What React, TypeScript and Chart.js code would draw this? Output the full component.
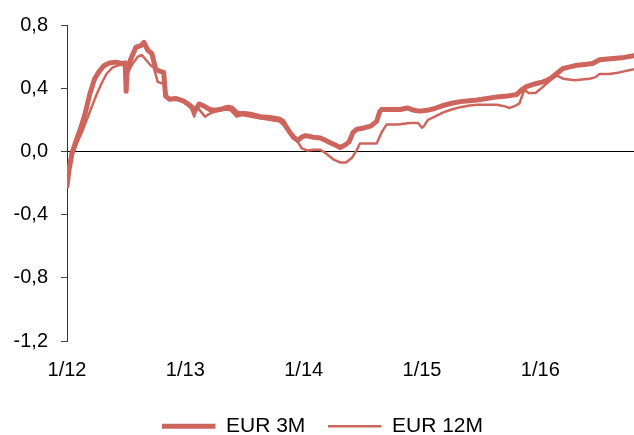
import React, { useEffect, useRef } from "react";
import { Chart, registerables } from "chart.js";

Chart.register(...registerables);

// x values are months elapsed since January 2012
const xTickLabels = ["1/12", "1/13", "1/14", "1/15", "1/16"];
const yTicks = [-1.2, -0.8, -0.4, 0, 0.4, 0.8];

const eur3mMonths = [
  0, 0.2, 0.5, 1.0, 1.4, 1.8, 2.3, 2.8, 3.2, 3.7, 4.3, 5.0, 5.6, 5.9, 6.0, 6.1, 6.5, 7.0, 7.5, 7.8,
  8.2, 8.6, 9.0, 9.3, 9.8, 10.0, 10.4, 11.0, 11.8, 12.5, 13.0, 13.4, 13.8, 14.5, 15.0, 15.5, 16.3,
  16.7, 17.3, 18.0, 18.6, 19.6, 20.6, 21.5, 21.9, 22.3, 22.6, 23.0, 23.4, 23.8, 24.2, 25.0, 25.7,
  26.2, 26.7, 27.2, 27.7, 28.2, 28.6, 29.0, 29.4, 30.2, 30.8, 31.4, 31.7, 31.9, 33.0, 33.8, 34.5,
  35.2, 35.8, 36.5, 37.2, 38.1, 39.0, 39.9, 40.8, 41.6, 42.6, 43.6, 44.6, 45.6, 46.1, 46.6, 47.6,
  48.3, 49.0, 49.6, 50.3, 51.0, 51.7, 52.5, 53.3, 54.0, 54.8, 55.7, 56.5, 57.5,
];
const eur3mValues = [
  -0.22, -0.12, -0.01, 0.08, 0.15, 0.23, 0.36, 0.46, 0.5, 0.54, 0.56, 0.565, 0.555, 0.56, 0.38, 0.52,
  0.59, 0.66, 0.67, 0.69, 0.64, 0.62, 0.52, 0.51, 0.5, 0.35, 0.33, 0.335, 0.32, 0.29, 0.26, 0.3, 0.29,
  0.265, 0.26, 0.265, 0.28, 0.275, 0.24, 0.24, 0.235, 0.22, 0.215, 0.205, 0.19, 0.15, 0.12, 0.09,
  0.07, 0.09, 0.1, 0.09, 0.085, 0.07, 0.055, 0.04, 0.025, 0.04, 0.06, 0.12, 0.14, 0.15, 0.16, 0.19,
  0.25, 0.265, 0.265, 0.265, 0.275, 0.26, 0.255, 0.26, 0.27, 0.29, 0.305, 0.315, 0.32, 0.325, 0.335,
  0.345, 0.35, 0.36, 0.39, 0.41, 0.43, 0.44, 0.46, 0.49, 0.525, 0.535, 0.545, 0.55, 0.556, 0.58,
  0.585, 0.59, 0.595, 0.605,
];

const eur12mMonths = [
  0, 0.3, 0.6, 1.0, 1.5, 2.0, 2.5, 3.0, 3.5, 4.0, 4.6, 5.2, 5.8, 6.0, 6.2, 6.6, 7.2, 7.6, 8.0, 8.4,
  8.8, 9.2, 9.6, 9.9, 10.1, 10.6, 11.3, 11.9, 12.6, 12.9, 13.2, 13.6, 14.0, 14.5, 15.2, 16.0, 16.6,
  17.2, 17.8, 18.6, 19.5, 20.5, 21.5, 21.9, 22.4, 22.8, 23.4, 23.8, 24.4, 25.0, 25.7, 26.3, 27.0,
  27.7, 28.3, 28.9, 29.4, 29.7, 30.5, 31.4, 31.9, 32.4, 33.5, 34.8, 35.6, 36.0, 36.2, 36.6, 37.3,
  38.1, 39.0, 39.9, 40.8, 41.6, 42.6, 43.6, 44.4, 44.9, 45.5, 45.9, 46.2, 46.4, 46.8, 47.5, 48.3,
  49.0, 49.7, 50.0, 50.3, 51.5, 53.0, 53.6, 54.0, 55.0, 56.0, 57.5,
];
const eur12mValues = [
  -0.22, -0.1, -0.02, 0.05, 0.12, 0.2, 0.28, 0.36, 0.43, 0.49, 0.53, 0.545, 0.55, 0.4, 0.5, 0.55,
  0.6, 0.61, 0.58, 0.55, 0.53, 0.44, 0.43, 0.45, 0.34, 0.33, 0.33, 0.315, 0.27, 0.22, 0.28, 0.25,
  0.22, 0.24, 0.255, 0.265, 0.26, 0.22, 0.23, 0.22, 0.21, 0.2, 0.19, 0.17, 0.13, 0.09, 0.06, 0.02,
  0.005, 0.01, 0.01, -0.015, -0.05, -0.07, -0.07, -0.04, 0.01, 0.05, 0.05, 0.05, 0.12, 0.17, 0.17,
  0.18, 0.18, 0.15, 0.16, 0.2, 0.22, 0.245, 0.265, 0.28, 0.29, 0.295, 0.295, 0.295, 0.285, 0.275,
  0.29, 0.305, 0.36, 0.39, 0.37, 0.37, 0.41, 0.45, 0.48, 0.47, 0.46, 0.45, 0.46, 0.47, 0.49, 0.49,
  0.5, 0.52,
];

const LINE_COLOR = "#CE655C";
const FONT = "'Liberation Sans', Arial, sans-serif";

export default function App() {
  const canvasRef = useRef<HTMLCanvasElement | null>(null);

  useEffect(() => {
    document.body.style.margin = "0";
    const canvas = canvasRef.current;
    if (!canvas) return;
    Chart.defaults.font.family = FONT;
    Chart.defaults.font.size = 20;
    Chart.defaults.color = "#000";

    const chart = new Chart(canvas, {
      type: "line",
      data: {
        datasets: [
          {
            label: "EUR 3M",
            data: eur3mMonths.map((m, i) => ({ x: m, y: eur3mValues[i] })),
            borderColor: LINE_COLOR,
            backgroundColor: LINE_COLOR,
            borderWidth: 5,
            pointRadius: 0,
            pointStyle: "line",
            tension: 0,
            borderJoinStyle: "round",
            borderCapStyle: "round",
          },
          {
            label: "EUR 12M",
            data: eur12mMonths.map((m, i) => ({ x: m, y: eur12mValues[i] })),
            borderColor: LINE_COLOR,
            backgroundColor: LINE_COLOR,
            borderWidth: 2.5,
            pointRadius: 0,
            pointStyle: "line",
            tension: 0,
            borderJoinStyle: "round",
            borderCapStyle: "butt",
          },
        ],
      },
      options: {
        responsive: false,
        animation: false,
        devicePixelRatio: 1,
        layout: { padding: { top: 22, right: 0, left: 11, bottom: 0 } },
        plugins: {
          tooltip: { enabled: false },
          legend: {
            position: "bottom",
            maxHeight: 42,
            labels: {
              usePointStyle: true,
              pointStyleWidth: 53.5,
              padding: 22.7,
              font: { size: 21, family: FONT },
              color: "#000",
            },
          },
        },
        scales: {
          x: {
            type: "linear",
            min: 0,
            max: 57.5,
            grid: { display: false, drawTicks: false },
            border: { display: false },
            afterBuildTicks: (scale: any) => {
              scale.ticks = xTickLabels.map((_, i) => ({ value: i * 12 }));
            },
            afterFit: (scale: any) => {
              scale.height = 52;
            },
            ticks: {
              padding: 17,
              maxRotation: 0,
              autoSkip: false,
              font: { size: 20, family: FONT },
              color: "#000",
              callback: (v: any) => xTickLabels[Math.round(Number(v) / 12)] ?? "",
            },
          },
          y: {
            min: -1.2,
            max: 0.8,
            afterBuildTicks: (scale: any) => {
              scale.ticks = yTicks.map((v) => ({ value: v }));
            },
            afterFit: (scale: any) => {
              scale.width = 56;
            },
            border: { display: true, color: "#333", width: 1 },
            grid: {
              drawTicks: true,
              tickLength: 6,
              tickColor: "#444",
              lineWidth: 1,
              color: (ctx: any) => (ctx.tick && ctx.tick.value === 0 ? "#000" : "rgba(0,0,0,0)"),
            },
            ticks: {
              padding: 13,
              font: { size: 20, family: FONT },
              color: "#000",
              callback: (v: any) => Number(v).toFixed(1).replace(".", ","),
            },
          },
        },
      },
    });
    return () => chart.destroy();
  }, []);

  return (
    <div style={{ width: 634, height: 435 }}>
      <canvas ref={canvasRef} width={634} height={435} />
    </div>
  );
}
